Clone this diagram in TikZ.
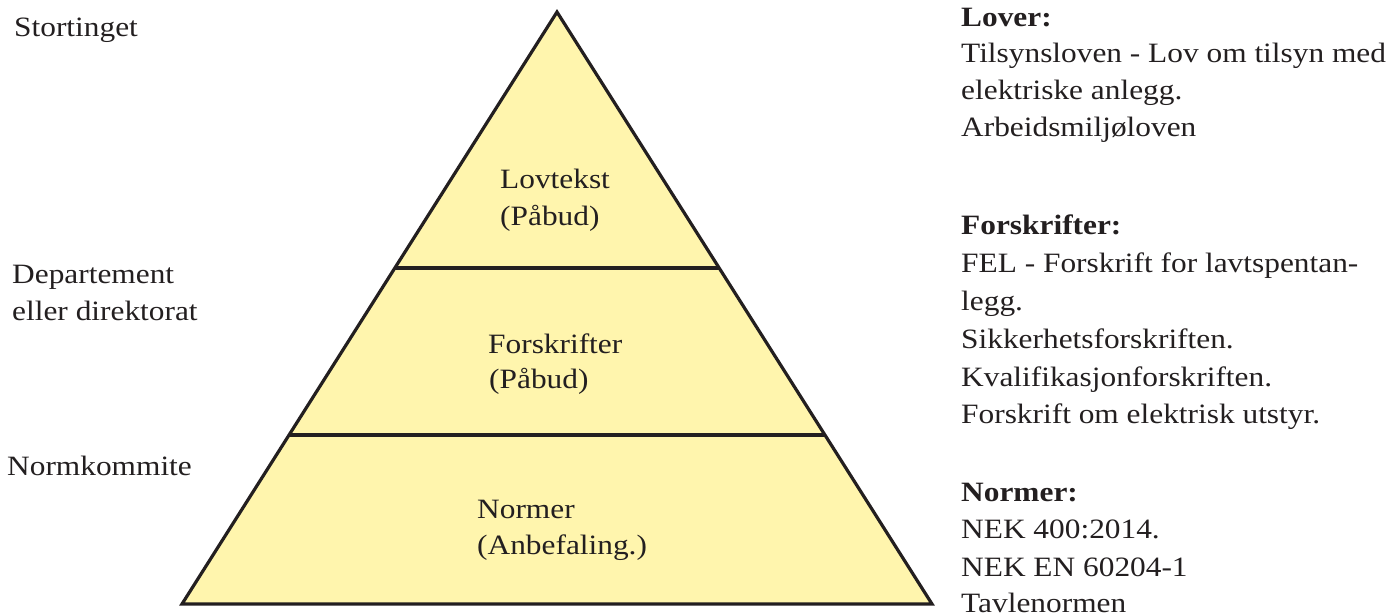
\documentclass[tikz,border=0pt]{standalone}
\usepackage{fontspec}
\setmainfont{Liberation Serif}[FakeStretch=1.12]
\usetikzlibrary{calc}
\definecolor{pyrfill}{RGB}{255,245,173}
\definecolor{ink}{RGB}{35,31,32}
\begin{document}
\begin{tikzpicture}[x=1pt,y=-1pt,
  txt/.style={anchor=base west,inner sep=0pt,text=ink,font=\fontsize{28}{37}\selectfont},
  hd/.style={txt,font=\fontsize{28}{37}\selectfont\bfseries},
  pyr/.style={draw=ink,line width=3.2pt,fill=pyrfill,line join=miter},
  divider/.style={draw=ink,line width=3.2pt}]
\useasboundingbox (0,0) rectangle (1389,615);
% pyramid
\coordinate (A) at (557,12);
\coordinate (BL) at (182,604);
\coordinate (BR) at (932,604);
\draw[pyr] (A) -- (BL) -- (BR) -- cycle;
\coordinate (L1) at ($(A)!0.4324!(BL)$);
\coordinate (R1) at ($(A)!0.4324!(BR)$);
\coordinate (L2) at ($(A)!0.7145!(BL)$);
\coordinate (R2) at ($(A)!0.7145!(BR)$);
\draw[divider] (L1) -- (R1);
\draw[divider] (L2) -- (R2);
% pyramid labels
\node[txt] (lov1) at (500,188) {Lovtekst};
\node[txt] (lov2) at (500,225) {(Påbud)};
\node[txt] (for1) at (488,353) {Forskrifter};
\node[txt] (for2) at (489,388) {(Påbud)};
\node[txt] (nor1) at (477,518) {Normer};
\node[txt] (nor2) at (477,554) {(Anbefaling.)};
% left labels
\node[txt] (sto) at (14,37) {Stortinget};
\node[txt] (dep1) at (12,283) {Departement};
\node[txt] (dep2) at (12,320) {eller direktorat};
\node[txt] (nk) at (7,475) {Normkommite};
% right column
\node[hd] (h1) at (961,27) {Lover:};
\node[txt] (r11) at (961,63) {Tilsynsloven - Lov om tilsyn med};
\node[txt] (r12) at (961,100) {elektriske anlegg.};
\node[txt] (r13) at (961,136) {Arbeidsmiljøloven};
\node[hd] (h2) at (961,234) {Forskrifter:};
\node[txt] (r21) at (961,272) {FEL - Forskrift for lavtspentan-};
\node[txt] (r22) at (961,310) {legg.};
\node[txt] (r23) at (961,348) {Sikkerhetsforskriften.};
\node[txt] (r24) at (961,386) {Kvalifikasjonforskriften.};
\node[txt] (r25) at (961,423) {Forskrift om elektrisk utstyr.};
\node[hd] (h3) at (961,501) {Normer:};
\node[txt] (r31) at (961,538) {NEK 400:2014.};
\node[txt] (r32) at (961,576) {NEK EN 60204-1};
\node[txt] (r33) at (961,612) {Tavlenormen};
\end{tikzpicture}
\end{document}
